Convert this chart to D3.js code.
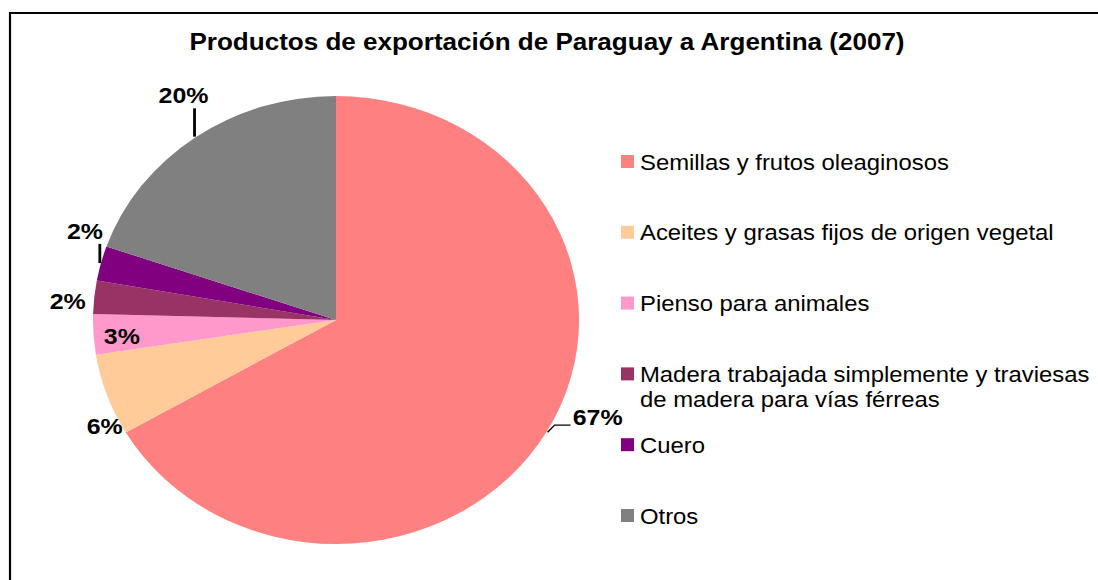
<!DOCTYPE html>
<html>
<head>
<meta charset="utf-8">
<script src="https://cdn.jsdelivr.net/npm/d3@7"></script>
<style>
  html, body { margin: 0; padding: 0; background: #fff; }
  svg { display: block; font-family: "Liberation Sans", Arial, sans-serif; }
</style>
</head>
<body>
<svg id="chart" width="1098" height="580"></svg>
<script>
"use strict";

// data
const categories = [
  "Semillas y frutos oleaginosos",
  "Aceites y grasas fijos de origen vegetal",
  "Pienso para animales",
  "Madera trabajada simplemente y traviesas de madera para vías férreas",
  "Cuero",
  "Otros"
];
const shares = [66.7, 5.9, 2.9, 2.4, 2.5, 19.7];
const pctLabels = ["67%", "6%", "3%", "2%", "2%", "20%"];
const legendLines = [
  ["Semillas y frutos oleaginosos"],
  ["Aceites y grasas fijos de origen vegetal"],
  ["Pienso para animales"],
  ["Madera trabajada simplemente y traviesas", "de madera para vías férreas"],
  ["Cuero"],
  ["Otros"]
];
const colors = ["#FF8080", "#FFCC99", "#FF99CC", "#993366", "#800080", "#808080"];
const title = "Productos de exportación de Paraguay a Argentina (2007)";

// the original picture is stretched a bit horizontally
const sx = 1.085;
const cx = 309.7, cy = 320, R = 224;

// label placement: radius and angle nudge (deg) from the slice middle
const labelPos = [
  { r: 260, da: -8, leader: "elbow" },
  { r: 238, da: -6.9 },
  { r: 198, da: -0.9 },
  { r: 248, da: -1.5 },
  { r: 248, da: 6.4, leader: "vertical" },
  { r: 265, da: 3.4, leader: "vertical" }
];

const svg = d3.select("#chart");
const root = svg.append("g").attr("transform", `scale(${sx},1)`);

// frame
root.append("rect")
  .attr("x", 10 / sx).attr("y", 13)
  .attr("width", 1200).attr("height", 700)
  .attr("fill", "none").attr("stroke", "#000").attr("stroke-width", 2);

root.append("text")
  .attr("x", 547 / sx).attr("y", 50)
  .attr("text-anchor", "middle")
  .attr("font-size", 24).attr("font-weight", "bold")
  .text(title);

const data = categories.map((c, i) => ({ name: c, value: shares[i], label: pctLabels[i], color: colors[i] }));

const pie = d3.pie().sort(null).value((d) => d.value);
const arcPath = d3.arc().innerRadius(0).outerRadius(R);
const arcs = pie(data);

const graph = root.append("g").attr("transform", `translate(${cx},${cy})`);

graph.selectAll("path.arc")
  .data(arcs)
  .enter()
  .append("path")
  .attr("class", "arc")
  .attr("d", arcPath)
  .attr("fill", (d) => d.data.color);

const polar = (r, a) => [r * Math.sin(a), -r * Math.cos(a)];
const deg = Math.PI / 180;

arcs.forEach((d, i) => {
  const p = labelPos[i];
  const mid = (d.startAngle + d.endAngle) / 2;
  const [lx, ly] = polar(p.r, mid + p.da * deg);
  const txt = graph.append("text")
    .attr("x", lx).attr("y", ly)
    .attr("text-anchor", "middle")
    .attr("dominant-baseline", "central")
    .attr("font-size", 23).attr("font-weight", "bold")
    .text(d.data.label);

  if (!p.leader) return;
  const [ex, ey] = polar(R + 1, mid);
  const base = ly + 8; // approx text baseline
  let pts;
  if (p.leader === "vertical") {
    pts = [[ex, ey], [ex, base + 5]];
  } else {
    const w = txt.node().getComputedTextLength();
    pts = [[ex, ey], [ex + 6.5, base], [lx - w / 2 - 2, base]];
  }
  graph.append("path")
    .attr("d", d3.line()(pts))
    .attr("fill", "none")
    .attr("stroke", "#000")
    .attr("stroke-width", p.leader === "vertical" ? 2.6 : 1.3);
});

// legend
const ly = d3.scalePoint().domain(categories).range([162, 516]);
const legend = root.append("g");
const items = legend.selectAll("g.item")
  .data(data)
  .enter()
  .append("g")
  .attr("class", "item")
  .attr("transform", (d) => `translate(${621 / sx},${ly(d.name)})`);

items.append("rect")
  .attr("x", 0).attr("y", -7)
  .attr("width", 12).attr("height", 13)
  .attr("fill", (d) => d.color);

items.each(function (d, i) {
  const t = d3.select(this).append("text")
    .attr("x", 17.5).attr("y", 0)
    .attr("dominant-baseline", "central")
    .attr("font-size", 22);
  legendLines[i].forEach((line, k) => {
    t.append("tspan").attr("x", 17.5).attr("dy", k === 0 ? 0 : 25).text(line);
  });
});
</script>
</body>
</html>
